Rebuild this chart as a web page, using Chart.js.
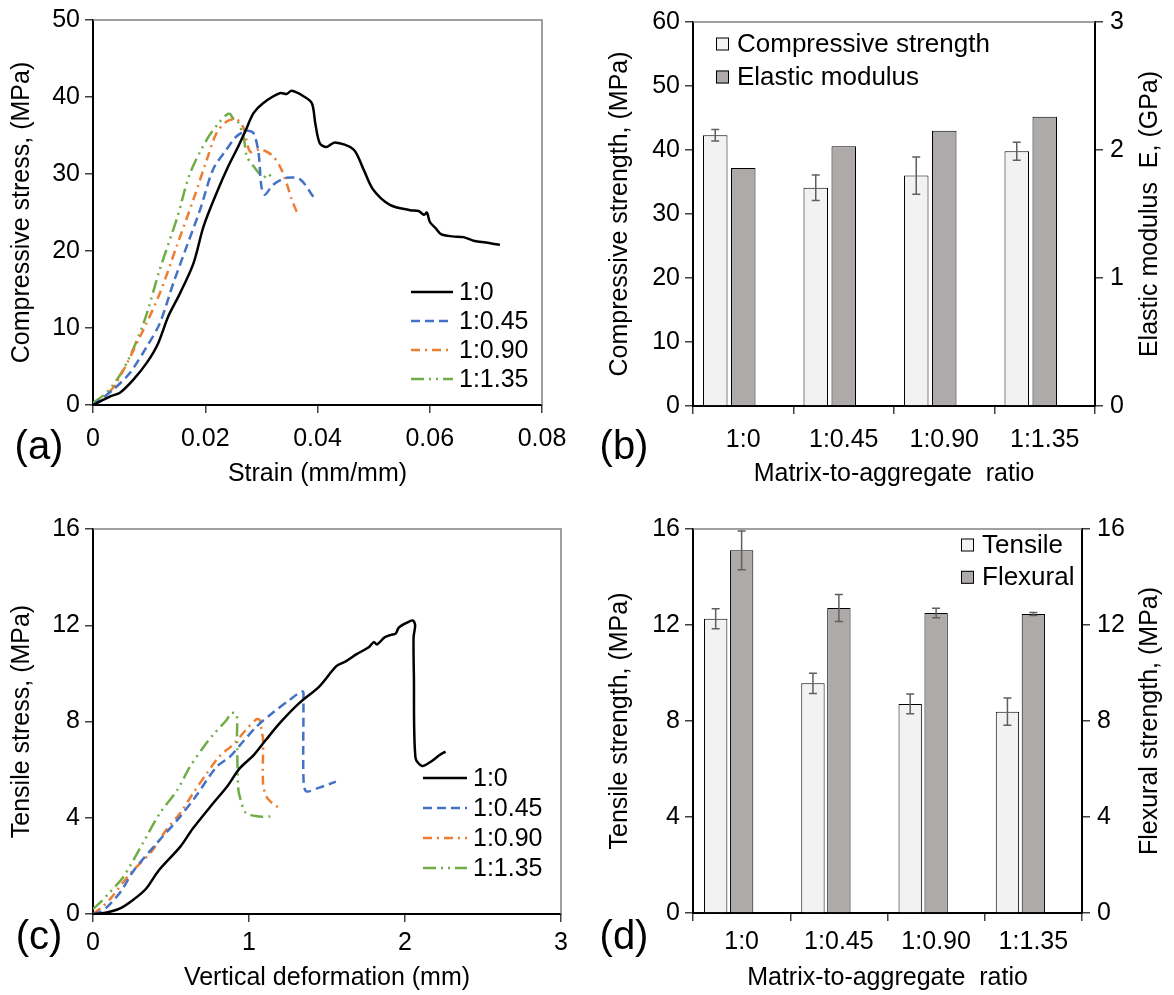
<!DOCTYPE html>
<html lang="en">
<head>
<meta charset="UTF-8">
<title>Matrix-to-aggregate ratio: stress curves and strengths</title>
<script src="https://cdn.jsdelivr.net/npm/chart.js"></script>
<style>
  body { margin: 0; background: #fff; }
  #wrap { position: relative; width: 1174px; height: 995px; }
  canvas { position: absolute; }
</style>
</head>
<body>
<div id="wrap">
  <canvas id="chartA" width="590" height="495" style="left:0;top:0"></canvas>
  <canvas id="chartB" width="584" height="495" style="left:590px;top:0"></canvas>
  <canvas id="chartC" width="590" height="500" style="left:0;top:495px"></canvas>
  <canvas id="chartD" width="584" height="500" style="left:590px;top:495px"></canvas>
</div>
<script>
// ---- data ----
const seriesNames = ['1:0', '1:0.45', '1:0.90', '1:1.35'];
const ratioLabels = ['1:0', '1:0.45', '1:0.90', '1:1.35'];

// (a) compressive stress-strain
const strainA0 = [0, 0.003, 0.0048, 0.0072, 0.0096, 0.0116, 0.0134, 0.0155, 0.0179, 0.0197, 0.022, 0.0241, 0.0259, 0.0271, 0.0286, 0.0303, 0.0333, 0.0345, 0.0354, 0.0375, 0.039, 0.0396, 0.0404, 0.0416, 0.0431, 0.0464, 0.0482, 0.0499, 0.0529, 0.0565, 0.058, 0.059, 0.0595, 0.060, 0.061, 0.062, 0.064, 0.066, 0.068, 0.070, 0.0715, 0.0725];
const stressA0 = [0, 1.1, 1.6, 3.3, 5.5, 8.0, 11.5, 14.5, 18.4, 23.2, 27.5, 31.0, 33.6, 35.5, 37.9, 39.2, 40.5, 40.4, 40.8, 40.1, 39.2, 36.6, 34.0, 33.5, 34.1, 33.2, 30.6, 28.0, 26.0, 25.3, 25.2, 24.7, 25.0, 23.8, 23.0, 22.2, 21.9, 21.8, 21.3, 21.1, 20.9, 20.8];
const strainA45 = [0, 0.0036, 0.0066, 0.0096, 0.0119, 0.0143, 0.0167, 0.0191, 0.0214, 0.0238, 0.0256, 0.0274, 0.0286, 0.0295, 0.030, 0.0306, 0.0321, 0.0345, 0.0369, 0.0392, 0.0395];
const stressA45 = [0, 2.0, 4.2, 7.6, 10.6, 15.8, 20.6, 25.4, 30.6, 33.2, 34.9, 35.6, 35.3, 32.7, 28.4, 27.3, 28.6, 29.5, 29.3, 27.1, 26.8];
const strainA90 = [0, 0.002, 0.0042, 0.0084, 0.0119, 0.0149, 0.0179, 0.0203, 0.022, 0.0238, 0.0256, 0.0268, 0.028, 0.0298, 0.0318, 0.0333, 0.0345, 0.0354, 0.0363];
const stressA90 = [0, 1.0, 2.9, 8.9, 14.5, 20.6, 26.7, 31.9, 35.3, 36.8, 37.1, 36.0, 32.9, 33.2, 32.5, 31.0, 28.8, 26.7, 25.1];
const strainA135 = [0, 0.0024, 0.0054, 0.009, 0.0119, 0.0149, 0.0173, 0.0203, 0.0226, 0.0238, 0.0244, 0.025, 0.0256, 0.0268, 0.0274, 0.0286, 0.0298, 0.0304, 0.031, 0.0321];
const stressA135 = [0.3, 1.6, 4.6, 10.6, 17.6, 24.1, 30.1, 34.5, 36.8, 37.7, 37.8, 37.2, 37.1, 34.9, 32.3, 31.0, 29.9, 29.5, 30.0, 29.5];

// (c) tensile stress vs vertical deformation
const defC0 = [0, 0.08, 0.17, 0.25, 0.34, 0.42, 0.56, 0.64, 0.77, 0.86, 0.94, 1.03, 1.11, 1.2, 1.32, 1.45, 1.56, 1.62, 1.69, 1.77, 1.8, 1.82, 1.87, 1.91, 1.94, 1.96, 2.01, 2.05, 2.065, 2.055, 2.057, 2.067, 2.11, 2.17, 2.22, 2.26];
const stressC0 = [0, 0.05, 0.22, 0.55, 1.05, 1.8, 2.8, 3.55, 4.6, 5.3, 6.05, 6.6, 7.25, 7.95, 8.75, 9.45, 10.3, 10.5, 10.8, 11.1, 11.3, 11.2, 11.5, 11.6, 11.65, 11.9, 12.1, 12.2, 12.0, 11.5, 9.9, 6.5, 6.15, 6.35, 6.6, 6.75];
const defC45 = [0, 0.05, 0.1, 0.18, 0.26, 0.41, 0.54, 0.66, 0.79, 0.88, 0.94, 1.05, 1.15, 1.26, 1.344, 1.349, 1.349, 1.366, 1.45, 1.557];
const stressC45 = [0, 0.1, 0.35, 0.95, 1.8, 2.95, 3.9, 4.9, 6.1, 6.55, 7.0, 7.8, 8.35, 8.9, 9.25, 8.95, 5.7, 5.1, 5.25, 5.5];
const defC90 = [0, 0.06, 0.12, 0.24, 0.37, 0.47, 0.56, 0.64, 0.73, 0.81, 0.9, 0.98, 1.05, 1.07, 1.08, 1.09, 1.09, 1.11, 1.15, 1.195];
const stressC90 = [0, 0.3, 0.7, 1.7, 2.55, 3.5, 4.2, 5.0, 5.85, 6.55, 7.05, 7.65, 8.1, 8.05, 7.65, 7.25, 5.45, 4.9, 4.6, 4.4];
const defC135 = [0, 0.05, 0.1, 0.195, 0.32, 0.43, 0.54, 0.62, 0.71, 0.77, 0.855, 0.887, 0.92, 0.923, 0.93, 0.94, 0.98, 1.07, 1.14];
const stressC135 = [0.2, 0.5, 0.85, 1.55, 2.95, 4.2, 5.15, 6.1, 6.95, 7.45, 8.05, 8.35, 8.3, 7.4, 5.3, 4.9, 4.2, 4.05, 4.05];

// (b) compressive strength (MPa) and elastic modulus (GPa)
const compStrength = [42.3, 34.1, 36.0, 39.8];
const compErr = [0.9, 2.0, 2.9, 1.4];
const elasticMod = [1.86, 2.03, 2.15, 2.26];

// (d) tensile and flexural strength (MPa)
const tensile = [12.26, 9.57, 8.71, 8.39];
const tensileErr = [0.42, 0.42, 0.41, 0.57];
const flexural = [15.11, 12.71, 12.5, 12.46];
const flexuralErr = [0.81, 0.56, 0.2, 0.06];

// ---- look ----
const FONT = "'Liberation Sans', Arial, sans-serif";
Chart.defaults.font.family = FONT;
Chart.defaults.font.size = 25;
Chart.defaults.color = '#000';
const lineColors = ['#000000', '#4472C4', '#ED7D31', '#70AD47'];
const lineDashes = [[], [9, 5], [9, 5, 2, 5], [13, 5, 2, 5, 2, 5]];

function toPoints(xs, ys) {
    return xs.map((x, i) => ({ x: x, y: ys[i] }));
}

function curveSets(pairs) {
    return pairs.map((p, i) => ({
        label: seriesNames[i],
        data: toPoints(p[0], p[1]),
        showLine: true,
        borderColor: lineColors[i],
        borderDash: lineDashes[i],
        borderWidth: 2.5,
        pointRadius: 0,
        tension: 0.3
    }));
}

function axisTicks() {
    return { drawOnChartArea: false, tickLength: 8, color: '#404040', lineWidth: 1.5 };
}

// gray top (and right when no right axis) frame line
const framePlugin = {
    id: 'frame',
    beforeDatasetsDraw(chart, args, opts) {
        const a = chart.chartArea, ctx = chart.ctx;
        ctx.save();
        ctx.strokeStyle = '#808080';
        ctx.lineWidth = 1.5;
        ctx.beginPath();
        ctx.moveTo(a.left, a.top);
        ctx.lineTo(a.right, a.top);
        if (opts.right) ctx.lineTo(a.right, a.bottom);
        ctx.stroke();
        ctx.restore();
    }
};

// panel letter, e.g. (a)
const panelPlugin = {
    id: 'panel',
    afterDraw(chart, args, opts) {
        if (!opts.text) return;
        const ctx = chart.ctx;
        ctx.save();
        ctx.font = '40px ' + FONT;
        ctx.fillStyle = '#000';
        ctx.textAlign = 'center';
        ctx.textBaseline = 'middle';
        ctx.fillText(opts.text, opts.x, opts.y);
        ctx.restore();
    }
};

// right-hand axis title read bottom-to-top like the left one
const rightTitlePlugin = {
    id: 'rightTitle',
    afterDraw(chart, args, opts) {
        if (!opts.text) return;
        const s = chart.scales.y1, ctx = chart.ctx;
        ctx.save();
        ctx.translate(s.right - opts.offset, (s.top + s.bottom) / 2);
        ctx.rotate(-Math.PI / 2);
        ctx.font = '25px ' + FONT;
        ctx.fillStyle = '#000';
        ctx.textAlign = 'center';
        ctx.textBaseline = 'middle';
        ctx.fillText(opts.text, 0, 0);
        ctx.restore();
    }
};

// legend with line samples
const lineKeyPlugin = {
    id: 'lineKey',
    afterDraw(chart, args, opts) {
        if (opts.x === undefined) return;
        const ctx = chart.ctx;
        ctx.save();
        ctx.font = '25px ' + FONT;
        ctx.textBaseline = 'middle';
        chart.data.datasets.forEach((ds, i) => {
            const y = opts.y + i * opts.gap;
            ctx.strokeStyle = ds.borderColor;
            ctx.lineWidth = ds.borderWidth;
            ctx.setLineDash(ds.borderDash);
            ctx.beginPath();
            ctx.moveTo(opts.x, y);
            ctx.lineTo(opts.x + opts.len, y);
            ctx.stroke();
            ctx.setLineDash([]);
            ctx.fillStyle = '#000';
            ctx.fillText(ds.label, opts.x + opts.len + 6, y + 1);
        });
        ctx.restore();
    }
};

// legend with filled boxes
const boxKeyPlugin = {
    id: 'boxKey',
    afterDraw(chart, args, opts) {
        if (opts.x === undefined) return;
        const ctx = chart.ctx;
        ctx.save();
        ctx.font = '26px ' + FONT;
        ctx.textBaseline = 'middle';
        chart.data.datasets.forEach((ds, i) => {
            if (ds.spacer) return;
            const y = opts.y + i * opts.gap;
            ctx.fillStyle = ds.backgroundColor;
            ctx.fillRect(opts.x, y - 6.5, 13, 13);
            ctx.strokeStyle = '#000';
            ctx.lineWidth = 1;
            ctx.strokeRect(opts.x + 0.5, y - 6, 12, 12);
            ctx.fillStyle = '#000';
            ctx.fillText(ds.label, opts.x + 21, y + 1);
        });
        ctx.restore();
    }
};

// error bars from dataset.errors
const errorBarPlugin = {
    id: 'errorBars',
    afterDatasetsDraw(chart) {
        const ctx = chart.ctx;
        chart.data.datasets.forEach((ds, i) => {
            if (!ds.errors) return;
            const meta = chart.getDatasetMeta(i);
            const ys = chart.scales[meta.yAxisID];
            ctx.save();
            ctx.strokeStyle = '#5f5f5f';
            ctx.lineWidth = 1.5;
            meta.data.forEach((bar, j) => {
                const top = ys.getPixelForValue(ds.data[j] + ds.errors[j]);
                const bot = ys.getPixelForValue(ds.data[j] - ds.errors[j]);
                ctx.beginPath();
                ctx.moveTo(bar.x, top); ctx.lineTo(bar.x, bot);
                ctx.moveTo(bar.x - 4, top); ctx.lineTo(bar.x + 4, top);
                ctx.moveTo(bar.x - 4, bot); ctx.lineTo(bar.x + 4, bot);
                ctx.stroke();
            });
            ctx.restore();
        });
    }
};

Chart.register(framePlugin, panelPlugin, rightTitlePlugin, lineKeyPlugin, boxKeyPlugin, errorBarPlugin);

function curveChart(id, sets, cfg) {
    return new Chart(document.getElementById(id), {
        type: 'scatter',
        data: { datasets: sets },
        options: {
            responsive: false,
            animation: false,
            layout: { padding: { top: cfg.top, right: cfg.right, left: 0, bottom: 0 } },
            plugins: {
                legend: { display: false },
                tooltip: { enabled: false },
                frame: { right: true },
                panel: cfg.panel,
                lineKey: cfg.key
            },
            scales: {
                x: {
                    type: 'linear', min: 0, max: cfg.xMax,
                    ticks: { stepSize: cfg.xStep, padding: cfg.tickPad, maxRotation: 0, callback: cfg.xFmt },
                    grid: axisTicks(),
                    border: { color: '#000', width: 2 },
                    title: { display: true, text: cfg.xTitle, padding: { top: 0, bottom: cfg.titlePad } },
                    afterFit: s => { s.height = cfg.xH; }
                },
                y: {
                    min: 0, max: cfg.yMax,
                    ticks: { stepSize: cfg.yStep, padding: 5 },
                    grid: axisTicks(),
                    border: { color: '#000', width: 2 },
                    title: { display: true, text: cfg.yTitle, padding: { top: 7, bottom: 0 } },
                    afterFit: s => { s.width = 93; }
                }
            }
        }
    });
}

function barChart(id, sets, cfg) {
    return new Chart(document.getElementById(id), {
        type: 'bar',
        data: { labels: ratioLabels, datasets: sets },
        options: {
            responsive: false,
            animation: false,
            layout: { padding: { top: cfg.top, right: 0, left: 0, bottom: 0 } },
            datasets: { bar: { categoryPercentage: cfg.catPct, barPercentage: cfg.barPct, borderColor: '#000', borderWidth: 1 } },
            plugins: {
                legend: { display: false },
                tooltip: { enabled: false },
                frame: { right: false },
                panel: cfg.panel,
                boxKey: cfg.key,
                rightTitle: cfg.rightTitle
            },
            scales: {
                x: {
                    type: 'category', offset: true,
                    ticks: { padding: cfg.tickPad, maxRotation: 0, autoSkip: false },
                    grid: Object.assign(axisTicks(), { offset: true }),
                    border: { color: '#000', width: 2 },
                    title: { display: true, text: 'Matrix-to-aggregate  ratio', padding: { top: 0, bottom: cfg.titlePad } },
                    afterFit: s => { s.height = cfg.xH; }
                },
                y: {
                    position: 'left', min: 0, max: cfg.yMax,
                    ticks: { stepSize: cfg.yStep, padding: 5 },
                    grid: axisTicks(),
                    border: { color: '#000', width: 2 },
                    title: { display: true, text: cfg.yTitle, padding: { top: 15, bottom: 0 } },
                    afterFit: s => { s.width = 103; }
                },
                y1: {
                    position: 'right', min: 0, max: cfg.y1Max,
                    ticks: { stepSize: cfg.y1Step, padding: 7 },
                    grid: axisTicks(),
                    border: { color: '#000', width: 2 },
                    afterFit: s => { s.width = cfg.y1W; }
                }
            }
        }
    });
}

// (a)
curveChart('chartA', curveSets([[strainA0, stressA0], [strainA45, stressA45], [strainA90, stressA90], [strainA135, stressA135]]), {
    top: 20, right: 48, xH: 90, tickPad: 11, titlePad: 6,
    xMax: 0.08, xStep: 0.02, xFmt: v => (v === 0 ? '0' : v.toFixed(2)),
    yMax: 50, yStep: 10,
    xTitle: 'Strain (mm/mm)', yTitle: 'Compressive stress, (MPa)',
    panel: { text: '(a)', x: 39, y: 448 },
    key: { x: 411, y: 292, gap: 29, len: 42 }
});

// (b)
barChart('chartB', [
    { label: 'Compressive strength', data: compStrength, errors: compErr, backgroundColor: '#F2F2F2', yAxisID: 'y' },
    { label: 'Elastic modulus', data: elasticMod, backgroundColor: '#AEAAAA', yAxisID: 'y1' },
    { label: '', data: [null, null, null, null], spacer: true, yAxisID: 'y' }
], {
    top: 21, xH: 89, tickPad: 11, titlePad: 6, catPct: 0.836, barPct: 0.875,
    yMax: 60, yStep: 10, y1Max: 3, y1Step: 1, y1W: 79,
    yTitle: 'Compressive strength, (MPa)',
    rightTitle: { text: 'Elastic modulus  E, (GPa)', offset: 24 },
    panel: { text: '(b)', x: 34, y: 448 },
    key: { x: 126, y: 44, gap: 33 }
});

// (c)
curveChart('chartC', curveSets([[defC0, stressC0], [defC45, stressC45], [defC90, stressC90], [defC135, stressC135]]), {
    top: 34, right: 29, xH: 81, tickPad: 6, titlePad: 2,
    xMax: 3, xStep: 1, xFmt: v => String(v),
    yMax: 16, yStep: 4,
    xTitle: 'Vertical deformation (mm)', yTitle: 'Tensile stress, (MPa)',
    panel: { text: '(c)', x: 39, y: 443 },
    key: { x: 423, y: 283, gap: 30, len: 44 }
});

// (d)
barChart('chartD', [
    { label: 'Tensile', data: tensile, errors: tensileErr, backgroundColor: '#F2F2F2', yAxisID: 'y' },
    { label: 'Flexural', data: flexural, errors: flexuralErr, backgroundColor: '#AEAAAA', yAxisID: 'y1' },
    { label: '', data: [null, null, null, null], spacer: true, yAxisID: 'y' }
], {
    top: 34, xH: 82, tickPad: 6, titlePad: 2, catPct: 0.80, barPct: 0.9,
    yMax: 16, yStep: 4, y1Max: 16, y1Step: 4, y1W: 92,
    yTitle: 'Tensile strength, (MPa)',
    rightTitle: { text: 'Flexural strength, (MPa)', offset: 24 },
    panel: { text: '(d)', x: 34, y: 443 },
    key: { x: 371, y: 50, gap: 32.3 }
});
</script>
</body>
</html>
